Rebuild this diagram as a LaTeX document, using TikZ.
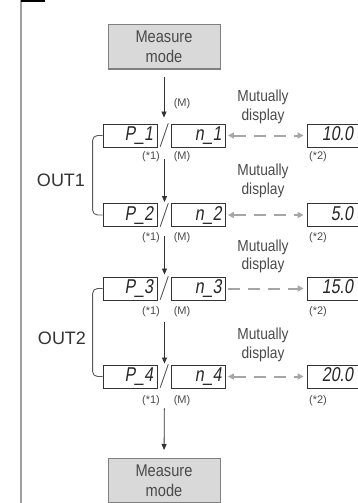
\documentclass[tikz,border=0pt]{standalone}
\usepackage{fontspec}
\newfontfamily\sansf{Liberation Sans}
\newfontfamily\condfont[FakeStretch=0.86]{Liberation Sans}
\newfontfamily\segfont[FakeStretch=0.8,FakeSlant=0.16]{Liberation Sans}
\usetikzlibrary{arrows.meta}
\definecolor{framegray}{HTML}{A0A0A0}
\definecolor{boxgray}{HTML}{808080}
\definecolor{modefill}{HTML}{D9D9D9}
\definecolor{textgray}{HTML}{4A4A4A}
\definecolor{dashgray}{HTML}{A6A6A6}
\definecolor{displine}{HTML}{333333}
\definecolor{arrowcol}{HTML}{333333}
\begin{document}
\begin{tikzpicture}[x=1pt,y=-1pt,
  modebox/.style={draw=boxgray, fill=modefill, line width=1pt, minimum width=112pt,
    minimum height=44pt, inner sep=0pt, align=center, text=textgray,
    font=\condfont\fontsize{17}{20}\selectfont},
  disp/.style={draw=displine, line width=0.9pt, minimum height=23pt, inner xsep=4pt,
    inner ysep=0pt, text width=46pt, align=right, text height=14pt, text depth=4pt,
    font=\segfont\fontsize{20}{20}\selectfont, text=black!85},
  valdisp/.style={disp, inner xsep=8pt, text width=38pt},
  slashnode/.style={inner sep=0pt, font=\rmfamily\fontsize{24}{24}\selectfont, text=displine},
  lbl/.style={inner sep=0pt, font=\sansf\fontsize{11}{11}\selectfont, text=textgray},
  mdl/.style={inner sep=0pt, align=center, text=textgray,
    font=\condfont\fontsize{16}{18.5}\selectfont},
  outl/.style={inner sep=0pt, font=\sansf\fontsize{18}{18}\selectfont, text=black!80},
  varrow/.style={draw=arrowcol, line width=0.8pt, -{Triangle[length=6pt,width=5pt]}},
  dasharrow/.style={draw=dashgray, line width=2pt, dash pattern=on 12pt off 8pt,
    shorten <=2pt, shorten >=3pt},
  bracket/.style={draw=black!65, line width=0.9pt, rounded corners=5pt}
]
\useasboundingbox (0,0) rectangle (357,503);

% frame
\draw[framegray, line width=1.5pt] (21,0) -- (21,503);
\fill[black] (20.5,0) rectangle (45,1.6);

% measure mode boxes
\node[modebox] (mm1) at (164,47) {Measure\\mode};
\node[modebox] (mm2) at (164,480.5) {Measure\\mode};

% rows
\foreach \i/\y/\v in {1/135.5/10.0, 2/215/5.0, 3/288.5/15.0, 4/376.5/20.0}{
  \node[disp] (p\i) at (130,\y) {P\_\i};
  \node[slashnode] (s\i) at (164.5,\y) {/};
  \node[disp] (n\i) at (198.5,\y) {n\_\i};
  \node[valdisp] (v\i) at (334,\y) {\v};
}

% labels under rows
\foreach \i/\y in {1/157, 2/238, 3/312, 4/401}{
  \node[lbl] (ca\i) at (151,\y) {(*1)};
  \node[lbl] (cb\i) at (182,\y) {(M)};
  \node[lbl] (cc\i) at (318,\y) {(*2)};
}
\node[lbl] (m0) at (182,104) {(M)};

% mutually display labels
\node[mdl] (md0) at (263,107) {Mutually\\display};
\node[mdl] (md1) at (263,181) {Mutually\\display};
\node[mdl] (md2) at (263,256.5) {Mutually\\display};
\node[mdl] (md3) at (263,345) {Mutually\\display};

% OUT labels
\node[outl] (out1) at (61,180) {OUT1};
\node[outl] (out2) at (62,338) {OUT2};

% vertical arrows
\draw[varrow, shorten <=7pt, shorten >=6pt] (mm1.south) -- (mm1.south |- p1.north);
\draw[varrow, shorten <=12pt, shorten >=1pt] (s1 |- p1.south) -- (s2 |- p2.north);
\draw[varrow, shorten <=9pt, shorten >=2pt] (s2 |- p2.south) -- (s3 |- p3.north);
\draw[varrow, shorten <=22pt, shorten >=1pt] (s3 |- p3.south) -- (s4 |- p4.north);
\draw[varrow, shorten <=20pt, shorten >=8pt] (s4 |- p4.south) -- (mm2.north);

% dashed arrows
\draw[dasharrow, {Triangle[length=6pt,width=6pt]}-{Triangle[length=6pt,width=6pt]}] (n1.east) -- (v1.west);
\draw[dasharrow, {Triangle[length=6pt,width=6pt]}-{Triangle[length=6pt,width=6pt]}] (n2.east) -- (v2.west);
\draw[dasharrow, -{Triangle[length=6pt,width=6pt]}] (n3.east) -- (v3.west);
\draw[dasharrow, {Triangle[length=6pt,width=6pt]}-{Triangle[length=6pt,width=6pt]}] (n4.east) -- (v4.west);

% brackets
\draw[bracket] (p1.west) -- ++(-10,0) |- (p2.west);
\draw[bracket] (p3.west) -- ++(-10,0) |- (p4.west);
\end{tikzpicture}
\end{document}
